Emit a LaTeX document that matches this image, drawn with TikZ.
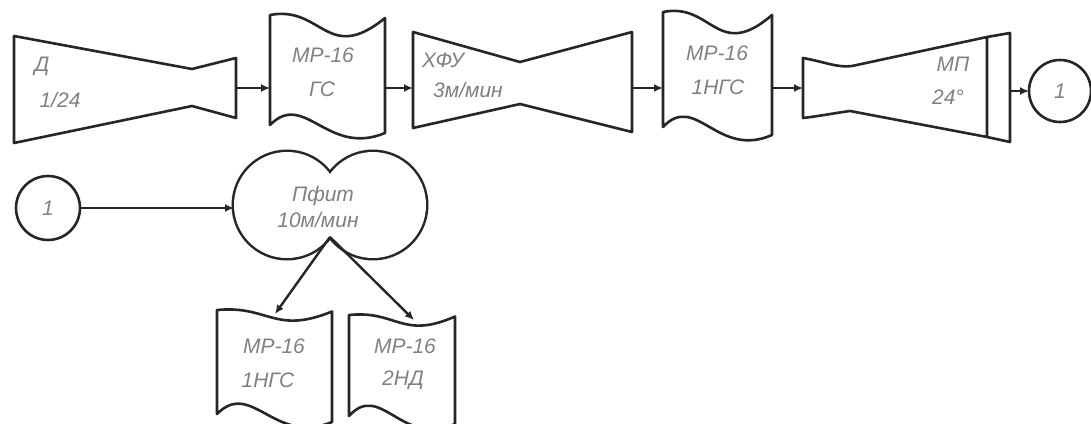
\documentclass[tikz,border=0pt]{standalone}
\usepackage{fontspec}
\setmainfont{Liberation Sans}
\usetikzlibrary{calc,arrows.meta}
\tikzset{
  outline/.style={draw=black!85, line width=2.6pt, line join=round},
  conn/.style={draw=black!85, line width=2.4pt, -{Latex[length=9pt,width=8pt]}},
  box/.style={draw=none, rectangle, inner sep=0pt, outer sep=0pt},
  rnd/.style={outline, circle, inner sep=0pt, outer sep=0pt},
  lbl/.style={text=black!50, font=\fontsize{21}{23}\selectfont\itshape, inner sep=0pt}
}
\newcommand\tapeoutline[3]{%
  \draw[outline] (#1.north west)
    .. controls ($(#1.north west)!0.45!(#1.north east)+(0,-10*#2)$) and ($(#1.north west)!0.5!(#1.north east)+(0,50*#2)$) .. ($(#1.north east)+(0,3*#2)$)
    -- ($(#1.south east)+(0,-2*#3)$)
    .. controls ($(#1.south west)!0.5!(#1.south east)+(0,22*#3)$) and ($(#1.south west)!0.3!(#1.south east)+(0,-45*#3)$) .. ($(#1.south west)+(0,-10*#3)$)
    -- cycle;}
\begin{document}
\begin{tikzpicture}[x=1pt,y=-1pt]
\useasboundingbox (0,0) rectangle (1091,423);
% ---- top row boxes (invisible frames for connections)
\node[box, minimum width=222pt, minimum height=107pt] (A) at (125,89.5) {};
\node[box, minimum width=115pt, minimum height=120pt] (B) at (327.5,75) {};
\node[box, minimum width=219pt, minimum height=100pt] (C) at (522.5,82) {};
\node[box, minimum width=109pt, minimum height=125pt] (D) at (717.5,74.5) {};
\node[box, minimum width=207pt, minimum height=109pt] (E) at (906.5,87.5) {};
\node[rnd, minimum size=62pt] (c1) at (1060,91) {};
\coordinate (row) at (0,88);
% outlines
\draw[outline] (14,36) -- (192,69) -- (236,58) -- (236,118) -- (192,106) -- (14,143) -- cycle;
\tapeoutline{B}{1}{1}
\draw[outline] (413,32) -- (520,62) -- (632,32) -- (632,132) -- (520,104) -- (413,128) -- cycle;
\tapeoutline{D}{1}{1}
\draw[outline] (803,58) .. controls (825,62) and (838,68) .. (852,66) -- (987,37) -- (987,137)
  -- (850,111) .. controls (835,113) and (820,116) .. (803,118) -- cycle;
\draw[outline] (987,37) -- (1010,33) -- (1010,142) -- (987,137);
% labels
\node[lbl] (tA1) at (42,66) {Д};
\node[lbl] (tA2) at (60,100) {1/24};
\node[lbl] (tB1) at (323,55) {МР-16};
\node[lbl] (tB2) at (322,89) {ГС};
\node[lbl] (tC1) at (443,60) {ХФУ};
\node[lbl] (tC2) at (468,90) {3м/мин};
\node[lbl] (tD1) at (717,53) {МР-16};
\node[lbl] (tD2) at (718,87) {1НГС};
\node[lbl] (tE1) at (953,64) {МП};
\node[lbl] (tE2) at (948,97) {24°};
\node[lbl] (tc1) at (1060,91) {1};
% connectors top row
\draw[conn] (A.east |- row) -- (B.west |- row);
\draw[conn] (B.east |- row) -- (C.west |- row);
\draw[conn] (C.east |- row) -- (D.west |- row);
\draw[conn] (D.east |- row) -- (E.west |- row);
\draw[conn] (E.east |- c1.west) -- (c1.west);
% ---- lower part
\node[rnd, minimum size=64pt] (c2) at (48,208) {};
\node[lbl] (tc2) at (48,208) {1};
\node[box, minimum width=192pt, minimum height=106pt] (P) at (330,205) {};
\draw[draw=black!85, line width=5pt] (287,205) circle[radius=53pt] (373,205) circle[radius=53pt];
\fill[white] (287,205) circle[radius=53pt] (373,205) circle[radius=53pt];
\node[lbl] (tP1) at (323,196) {Пфит};
\node[lbl] (tP2) at (318,220) {10м/мин};
\coordinate (notch) at (330,237);
\draw[conn] (c2.east) -- (P.west |- c2.east);
\node[box, minimum width=115pt, minimum height=114pt] (L1) at (274.5,367) {};
\node[box, minimum width=106pt, minimum height=111pt] (R1) at (402,370.5) {};
\tapeoutline{L1}{0.5}{1}
\tapeoutline{R1}{0.5}{1}
\node[lbl] (tL1) at (274,346) {МР-16};
\node[lbl] (tL2) at (268,380) {1НГС};
\node[lbl] (tR1) at (405,346) {МР-16};
\node[lbl] (tR2) at (403,380) {2НД};
\coordinate (L1tip) at (275,314);
\coordinate (R1tip) at (414,320);
\draw[conn] (notch) -- (L1tip);
\draw[conn] (notch) -- (R1tip);
\end{tikzpicture}
\end{document}
